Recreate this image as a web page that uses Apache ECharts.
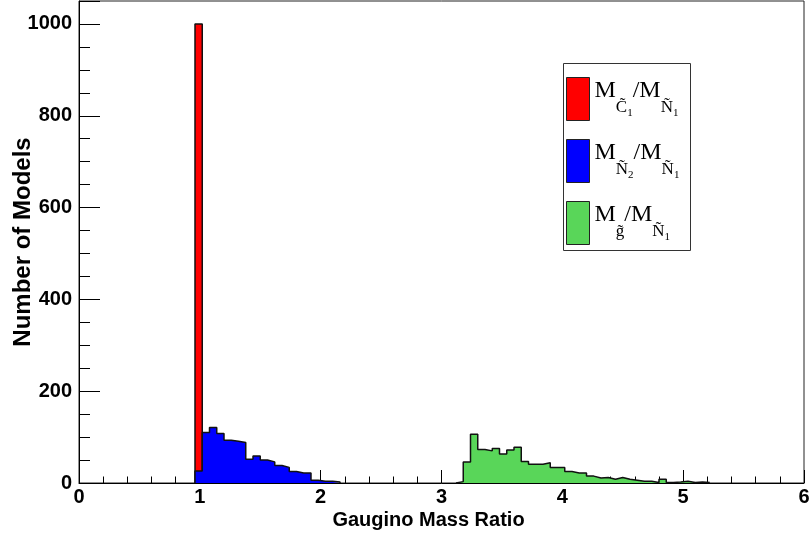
<!DOCTYPE html>
<html><head><meta charset="utf-8">
<script src="https://cdn.jsdelivr.net/npm/echarts@6/dist/echarts.min.js"></script>
<style>html,body{margin:0;padding:0;background:#fff}#c{width:811px;height:539px}</style>
</head><body><div id="c"></div>
<script>
// histogram binning: 100 bins of width 0.06 on [0, 6]
const binWidth = 0.06;
const xTicks = [0, 1, 2, 3, 4, 5, 6];
const yTicks = [0, 200, 400, 600, 800, 1000];
const seriesNames = ['MC1/MN1', 'MN2/MN1', 'Mg/MN1'];
const seriesColors = ['#ff0000', '#0000ff', '#59d659'];

// red: M(C1)/M(N1)
const redStartBin = 16;
const redCounts = [1000];
// blue: M(N2)/M(N1)
const blueStartBin = 16;
const blueCounts = [26, 110, 121, 108, 93, 91, 88, 52, 59, 50, 46, 38, 34, 25, 22, 22, 6, 4, 4, 2];
// green: M(g)/M(N1)
const greenStartBin = 52;
const greenCounts = [3, 46, 106, 73, 70, 75, 63, 72, 78, 47, 41, 41, 44, 34, 34, 25, 22, 22, 15, 11,
                     12, 8, 12, 8, 6, 4, 4, 1, 8, 1, 2, 4, 1, 2, 1];

const legendLabels = {
  'MC1/MN1': '{m|M}{s|C\u0303}{n|1}{m|/M}{s|\u00d1}{n|1}',
  'MN2/MN1': '{m|M}{s|\u00d1}{n|2}{m|/M}{s|\u00d1}{n|1}',
  'Mg/MN1':  '{m|M}{s|g\u0303}{m|/M}{s|\u00d1}{n|1}'
};

function stepPoints(start, counts) {
  const pts = [[+(start * binWidth).toFixed(4), 0]];
  counts.forEach((c, i) => pts.push([+((start + i) * binWidth).toFixed(4), c]));
  pts.push([+((start + counts.length) * binWidth).toFixed(4), 0]);
  return pts;
}

const histData = [
  stepPoints(redStartBin, redCounts),
  stepPoints(blueStartBin, blueCounts),
  stepPoints(greenStartBin, greenCounts)
];

const labelFont = {fontFamily: 'Liberation Sans', fontWeight: 'bold', fontSize: 20, color: '#000'};
const xTitleFont = {fontFamily: 'Liberation Sans', fontWeight: 'bold', fontSize: 20, color: '#000', padding: [0, 26, 0, 0]};
const yTitleFont = {fontFamily: 'Liberation Sans', fontWeight: 'bold', fontSize: 24, color: '#000'};

const chart = echarts.init(document.getElementById('c'), null, {renderer: 'canvas'});
chart.setOption({
  animation: false,
  backgroundColor: '#fff',
  grid: {left: 79, right: 7, top: 1, bottom: 56, outerBoundsMode: 'none', containLabel: false,
         show: true, borderColor: '#222', borderWidth: 1, backgroundColor: 'transparent'},
  xAxis: {
    type: 'value', min: xTicks[0], max: xTicks[xTicks.length - 1], interval: 1,
    name: 'Gaugino Mass Ratio', nameLocation: 'middle', nameGap: 27, nameTextStyle: xTitleFont,
    nameMoveOverlap: false,
    axisLine: {show: true, onZero: false, lineStyle: {color: '#000', width: 1}},
    axisTick: {show: true, inside: true, length: 13, lineStyle: {color: '#000'}},
    minorTick: {show: true, splitNumber: 5, length: 6.5, lineStyle: {color: '#000'}},
    axisLabel: Object.assign({margin: 4, formatter: v => xTicks.includes(v) ? String(v) : ''}, labelFont),
    splitLine: {show: false}
  },
  yAxis: {
    type: 'value', min: 0, max: 1050, interval: 200,
    name: 'Number of Models', nameLocation: 'middle', nameGap: 44, nameTextStyle: yTitleFont,
    nameMoveOverlap: false,
    axisLine: {show: true, lineStyle: {color: '#000', width: 1}},
    axisTick: {show: true, inside: true, length: 21, lineStyle: {color: '#000'}},
    minorTick: {show: true, splitNumber: 4, length: 11, lineStyle: {color: '#000'}},
    axisLabel: Object.assign({margin: 7, showMaxLabel: false, formatter: v => yTicks.includes(v) ? String(v) : ''}, labelFont),
    splitLine: {show: false}
  },
  legend: {
    orient: 'vertical', left: 566, top: 77, itemWidth: 23, itemHeight: 43, itemGap: 18,
    padding: 0, selectedMode: false,
    data: seriesNames.map((n, i) => ({name: n, icon: 'rect', itemStyle: {color: seriesColors[i], borderColor: '#222', borderWidth: 1}})),
    formatter: name => legendLabels[name],
    textStyle: {
      color: '#000',
      rich: {
        m: {fontFamily: 'Liberation Serif', fontSize: 24, lineHeight: 24, padding: [0, 0, 16, 0], color: '#000'},
        s: {fontFamily: 'Liberation Serif', fontSize: 17, lineHeight: 16, padding: [21, 0, 3, 0], color: '#000'},
        n: {fontFamily: 'Liberation Serif', fontSize: 11, lineHeight: 11, padding: [29, 0, 0, 0], color: '#000'}
      }
    }
  },
  graphic: [{
    type: 'rect', left: 563, top: 63, z: 0,
    shape: {width: 127, height: 187},
    style: {fill: '#fff', stroke: '#333', lineWidth: 1}
  }],
  series: seriesNames.map((n, i) => ({
    name: n, type: 'line', step: 'end', data: histData[i],
    symbol: 'none', showSymbol: false, z: 2 + i,
    itemStyle: {color: seriesColors[i]},
    lineStyle: {color: '#111', width: 1.5},
    areaStyle: {color: seriesColors[i], opacity: 1}
  }))
});
</script>
</body></html>
